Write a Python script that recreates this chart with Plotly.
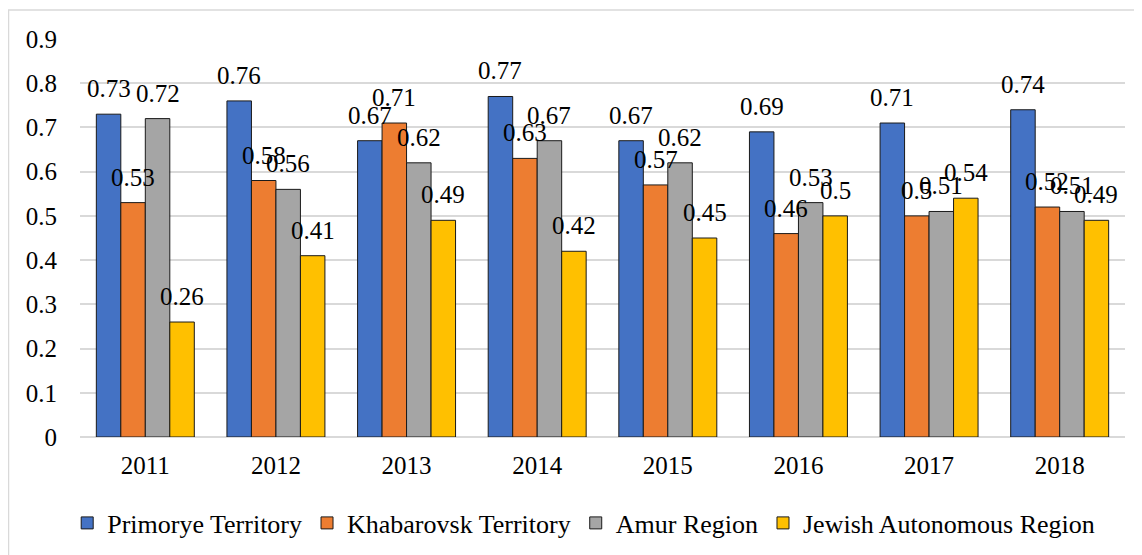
import plotly.graph_objects as go

years = ["2011", "2012", "2013", "2014", "2015", "2016", "2017", "2018"]
primorye = [0.73, 0.76, 0.67, 0.77, 0.67, 0.69, 0.71, 0.74]
khabarovsk = [0.53, 0.58, 0.71, 0.63, 0.57, 0.46, 0.5, 0.52]
amur = [0.72, 0.56, 0.62, 0.67, 0.62, 0.53, 0.51, 0.51]
jewish = [0.26, 0.41, 0.49, 0.42, 0.45, 0.5, 0.54, 0.49]

series = [
    ("Primorye Territory", primorye, "#4472C4"),
    ("Khabarovsk Territory", khabarovsk, "#ED7D31"),
    ("Amur Region", amur, "#A5A5A5"),
    ("Jewish Autonomous Region", jewish, "#FFC000"),
]

FONT = "Liberation Serif"
FS = 25
LFS = 26

# page has an 8px body margin; figure is sized to fit the window after it
W, H = 1134, 547
L, R, T, B = 72, 17, 31, 118
pw, ph = W - L - R, H - T - B
BARGAP = 0.25
bw = pw / len(years) * (1 - BARGAP) / len(series)

def px(x):
    return (x - L) / pw

def py(y):
    return (H - B - y) / ph

fig = go.Figure()
annotations = []
for i, (name, vals, col) in enumerate(series):
    fig.add_trace(go.Bar(
        x=years, y=vals, name=name,
        marker=dict(color=col, line=dict(color="#1a1a1a", width=1)),
        cliponaxis=False,
    ))
    for j, v in enumerate(vals):
        annotations.append(dict(
            x=j, y=v, xref="x", yref="y", text=str(v), showarrow=False,
            xanchor="center", yanchor="bottom",
            xshift=(i - (len(series) - 1) / 2) * bw, yshift=10,
            font=dict(family=FONT, size=FS, color="black"),
        ))

fig.update_layout(
    width=W, height=H,
    margin=dict(l=L, r=R, t=T, b=B, autoexpand=False),
    paper_bgcolor="white", plot_bgcolor="white",
    barmode="group", bargap=BARGAP, bargroupgap=0,
    font=dict(family=FONT, size=FS, color="black"),
    showlegend=True,
    legend=dict(orientation="h", x=0.482, xanchor="center", y=py(515), yanchor="middle",
                font=dict(family=FONT, size=LFS), itemwidth=30, traceorder="normal",
                tracegroupgap=0),
    xaxis=dict(type="category", range=[-0.5, len(years) - 0.5],
               showgrid=False, ticks="", showline=False, automargin=False,
               tickfont=dict(family=FONT, size=FS), ticklabelstandoff=11),
    yaxis=dict(range=[0, 0.9], dtick=0.1, showgrid=True, gridcolor="#D9D9D9", gridwidth=1.5,
               zeroline=True, zerolinecolor="#D9D9D9", zerolinewidth=1.5, automargin=False,
               showline=False, ticks="", tickfont=dict(family=FONT, size=FS),
               tickformat="~g", ticklabelstandoff=22),
    annotations=annotations,
    shapes=[dict(type="rect", xref="paper", yref="paper",
                 x0=px(0.5), x1=px(W + 5), y0=py(H + 5), y1=py(2),
                 line=dict(color="#D9D9D9", width=1.5), layer="below")],
)

fig.write_html("out.html")
